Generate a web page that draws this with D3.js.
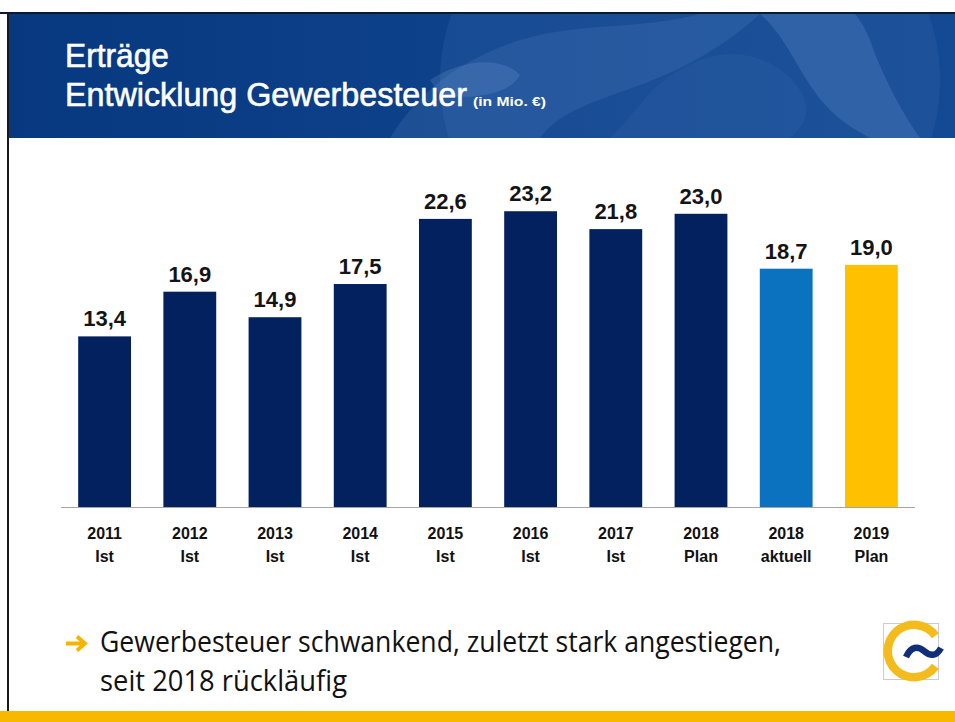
<!DOCTYPE html>
<html>
<head>
<meta charset="utf-8">
<script src="https://cdn.jsdelivr.net/npm/d3@7"></script>
<style>
  html, body { margin: 0; padding: 0; background: #fff; }
  svg { display: block; }
</style>
</head>
<body>
<svg id="chart" width="955" height="722"></svg>
<script>
// ---- data ----
const years = ["2011", "2012", "2013", "2014", "2015", "2016", "2017", "2018", "2018", "2019"];
const subLabels = ["Ist", "Ist", "Ist", "Ist", "Ist", "Ist", "Ist", "Plan", "aktuell", "Plan"];
const values = [13.4, 16.9, 14.9, 17.5, 22.6, 23.2, 21.8, 23.0, 18.7, 19.0];
const kinds = ["ist", "ist", "ist", "ist", "ist", "ist", "ist", "ist", "aktuell", "plan"];

const titleLine1 = "Erträge";
const titleLine2 = "Entwicklung Gewerbesteuer";
const titleUnit = "(in Mio. €)";
const noteLines = ["Gewerbesteuer schwankend, zuletzt stark angestiegen,", "seit 2018 rückläufig"];

// ---- drawing ----
const svg = d3.select("#chart");
const W = 955, H = 722;

const defs = svg.append("defs");
const grad = defs.append("linearGradient").attr("id", "hdr").attr("x1", 0).attr("x2", 1).attr("y1", 0).attr("y2", 0);
grad.append("stop").attr("offset", "0%").attr("stop-color", "#073880");
grad.append("stop").attr("offset", "45%").attr("stop-color", "#0d4189");
grad.append("stop").attr("offset", "100%").attr("stop-color", "#144a93");
defs.append("clipPath").attr("id", "hclip").append("rect").attr("x", 9).attr("y", 14).attr("width", W - 9).attr("height", 124);

// header band
svg.append("rect").attr("x", 0).attr("y", 12).attr("width", W).attr("height", 2).attr("fill", "#0a1a30");
svg.append("rect").attr("x", 9).attr("y", 14).attr("width", W - 9).attr("height", 124).attr("fill", "url(#hdr)");
const deco = svg.append("g").attr("clip-path", "url(#hclip)");
deco.append("ellipse").attr("cx", 690).attr("cy", 80).attr("rx", 250).attr("ry", 220).attr("fill", "#4a7cc0").attr("opacity", 0.18);
deco.append("path").attr("d", "M390,138 C420,90 460,60 520,40 C580,22 640,30 700,14 L760,14 C720,50 680,70 640,85 C600,100 560,110 540,138 Z").attr("fill", "#5d8cca").attr("opacity", 0.2);
deco.append("path").attr("d", "M610,138 C640,110 650,80 700,60 C740,45 780,60 800,90 C815,115 800,130 790,138 Z").attr("fill", "#2b5da3").attr("opacity", 0.4);
deco.append("path").attr("d", "M760,14 C790,40 800,80 830,110 C845,125 860,132 870,138 L920,138 C900,110 880,70 870,40 C865,28 860,20 855,14 Z").attr("fill", "#6a98d4").attr("opacity", 0.25);
deco.append("path").attr("d", "M430,80 C460,60 500,55 520,75 C510,95 470,100 440,95 Z").attr("fill", "#7aa6dc").attr("opacity", 0.22);

// left border line
svg.append("rect").attr("x", 7).attr("y", 12).attr("width", 2).attr("height", 699).attr("fill", "#1a1a1a");

// title
const tg = svg.append("g").attr("fill", "#ffffff").attr("stroke", "#ffffff").attr("stroke-width", 0.6)
  .attr("font-family", "'Liberation Sans', Arial, sans-serif");
tg.append("text").attr("x", 65).attr("y", 67).attr("font-size", 32.5)
  .attr("textLength", 104).attr("lengthAdjust", "spacingAndGlyphs").text(titleLine1);
tg.append("text").attr("x", 65).attr("y", 106).attr("font-size", 32.5)
  .attr("textLength", 402).attr("lengthAdjust", "spacingAndGlyphs").text(titleLine2);
tg.append("text").attr("x", 473).attr("y", 106).attr("font-size", 12.5).attr("font-weight", 700).attr("stroke-width", 0)
  .attr("textLength", 73).attr("lengthAdjust", "spacingAndGlyphs").text(titleUnit);

// chart
const baseY = 507.5;
const x = d3.scaleBand().domain(d3.range(values.length)).range([62, 914]).paddingInner(0.38).paddingOuter(0.19);
const y = d3.scaleLinear().domain([0, 25]).range([baseY, baseY - 25 * 12.77]);
const colorOf = d3.scaleOrdinal().domain(["ist", "aktuell", "plan"]).range(["#03205f", "#0b72c0", "#ffc000"]);

const g = svg.append("g");
g.selectAll("rect.bar").data(values).join("rect")
  .attr("class", "bar")
  .attr("x", (d, i) => x(i))
  .attr("y", d => y(d))
  .attr("width", x.bandwidth())
  .attr("height", d => baseY - y(d))
  .attr("fill", (d, i) => colorOf(kinds[i]));

g.selectAll("text.val").data(values).join("text")
  .attr("class", "val")
  .attr("x", (d, i) => x(i) + x.bandwidth() / 2)
  .attr("y", d => y(d) - 10)
  .attr("text-anchor", "middle")
  .attr("font-family", "'Liberation Sans', Arial, sans-serif")
  .attr("font-weight", 700)
  .attr("font-size", 22)
  .attr("fill", "#141414")
  .text(d => d.toFixed(1).replace(".", ","));

// axis (baseline + category labels)
const axis = d3.axisBottom(x).tickSize(0).tickFormat(() => "");
const ax = svg.append("g").attr("transform", `translate(0,${baseY})`).call(axis);
ax.select(".domain").attr("stroke", "#a6a6a6").attr("stroke-width", 1.2).attr("d", "M61,0H915");
ax.selectAll(".tick text").remove();
ax.selectAll(".tick").each(function(d) {
  const t = d3.select(this).append("text")
    .attr("text-anchor", "middle")
    .attr("font-family", "'Liberation Sans', Arial, sans-serif")
    .attr("font-weight", 700)
    .attr("font-size", 16)
    .attr("fill", "#111");
  t.append("tspan").attr("x", 0).attr("y", 31.5).text(years[d]);
  t.append("tspan").attr("x", 0).attr("y", 54.5).text(subLabels[d]);
});

// note with arrow
svg.append("path")
  .attr("d", "M66,643.5 H84 M77,636.5 L85,643.5 L77,650.5")
  .attr("fill", "none").attr("stroke", "#f5b400").attr("stroke-width", 3.8)
  .attr("stroke-linecap", "butt").attr("stroke-linejoin", "miter");
const note = svg.append("g").attr("font-family", "'Open Sans', sans-serif").attr("font-size", 30).attr("fill", "#111");
note.append("text").attr("x", 100).attr("y", 652).attr("textLength", 681).attr("lengthAdjust", "spacingAndGlyphs").text(noteLines[0]);
note.append("text").attr("x", 100).attr("y", 691).attr("textLength", 247).attr("lengthAdjust", "spacingAndGlyphs").text(noteLines[1]);

// logo
const logo = svg.append("g");
logo.append("rect").attr("x", 883.5).attr("y", 623.5).attr("width", 55).attr("height", 56)
  .attr("fill", "#fff").attr("stroke", "#c9ccd6").attr("stroke-width", 1);
logo.append("path")
  .attr("transform", "translate(914,651)")
  .attr("d", d3.arc().innerRadius(22).outerRadius(30.5).startAngle(Math.PI / 2 + 0.62).endAngle(2 * Math.PI + Math.PI / 2 - 0.62)())
  .attr("fill", "#f4bb1c");
logo.append("path")
  .attr("d", "M906,657 C911,646 918,646 924,651 C930,656 936,657 941,648")
  .attr("fill", "none").attr("stroke", "#0f2f78").attr("stroke-width", 6.5).attr("stroke-linecap", "butt");

// footer band
svg.append("rect").attr("x", 0).attr("y", 711).attr("width", W).attr("height", 11).attr("fill", "#f9b800");
</script>
</body>
</html>
